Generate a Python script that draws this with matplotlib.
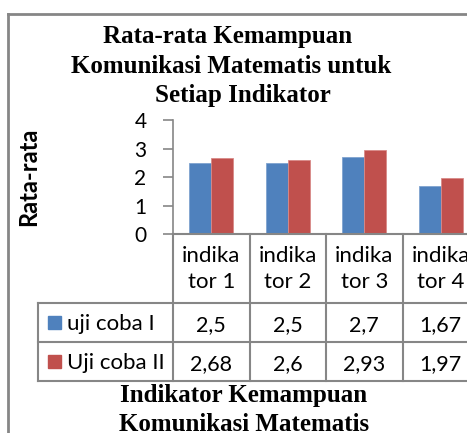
import matplotlib
matplotlib.use("Agg")
import matplotlib.pyplot as plt
from matplotlib.transforms import blended_transform_factory
from matplotlib.lines import Line2D
from matplotlib.patches import Rectangle

categories = ["indika\ntor 1", "indika\ntor 2", "indika\ntor 3", "indika\ntor 4"]
series_names = ["uji coba I", "Uji coba II"]
uji1 = [2.5, 2.5, 2.7, 1.67]
uji2 = [2.68, 2.6, 2.93, 1.97]
uji1_labels = ["2,5", "2,5", "2,7", "1,67"]
uji2_labels = ["2,68", "2,6", "2,93", "1,97"]
yticks = [0, 1, 2, 3, 4]
title_lines = ["Rata-rata Kemampuan", "Komunikasi Matematis untuk", "Setiap Indikator"]
xlabel_lines = ["Indikator Kemampuan", "Komunikasi Matematis"]

W, H = 467, 433
BLUE = "#4F81BD"
RED = "#C0504D"
GRAY = "#868686"
SANS = "Lato"
SERIF = "Liberation Serif"

fig = plt.figure(figsize=(W / 100, H / 100), dpi=100)

def fy(py):
    return 1 - py / H

def fx(px):
    return px / W

# axes in pixel coordinates
ax_left, ax_right, ax_top, ax_bot = 173, 479, 120, 234
ax = fig.add_axes([fx(ax_left), fy(ax_bot), (ax_right - ax_left) / W, (ax_bot - ax_top) / H])

x = list(range(len(categories)))
bw = 0.288
ax.bar([i - bw / 2 for i in x], uji1, width=bw, color=BLUE, edgecolor="#7FA3CF", linewidth=0.6)
ax.bar([i + bw / 2 for i in x], uji2, width=bw, color=RED, edgecolor="#D98A88", linewidth=0.6)

ax.set_xlim(-0.5, len(categories) - 0.5)
ax.set_ylim(0, 4)
ax.set_yticks(yticks)
ax.set_yticklabels([str(t) for t in yticks], fontsize=15, family=SANS)
ax.tick_params(axis="y", direction="out", length=7, width=1.2, color=GRAY, pad=12)
ax.set_xticks([])
for s in ["top", "right"]:
    ax.spines[s].set_visible(False)
ax.spines["left"].set_color(GRAY)
ax.spines["left"].set_linewidth(1.2)
ax.spines["bottom"].set_color(GRAY)
ax.spines["bottom"].set_linewidth(1.5)
ax.patch.set_alpha(0)

# data table
tr = blended_transform_factory(ax.transData, fig.transFigure)
row_y = [303, 342, 381]
for i in range(len(categories) + 1):
    xv = i - 0.5
    fig.add_artist(Line2D([xv, xv], [fy(ax_bot), fy(row_y[-1])], transform=tr,
                          color=GRAY, lw=1.5, clip_on=False))
for ry in row_y:
    fig.add_artist(Line2D([fx(38), fx(ax_right)], [fy(ry), fy(ry)], transform=fig.transFigure,
                          color=GRAY, lw=1.5))
fig.add_artist(Line2D([fx(38), fx(38)], [fy(row_y[0]), fy(row_y[-1])], transform=fig.transFigure,
                      color=GRAY, lw=1.5))

for i, c in enumerate(categories):
    l1, l2 = c.split("\n")
    fig.text(i, fy(262), l1, transform=tr, ha="center", va="baseline", fontsize=16, family=SANS)
    fig.text(i, fy(288), l2, transform=tr, ha="center", va="baseline", fontsize=16, family=SANS)
    fig.text(i, fy(331), uji1_labels[i], transform=tr, ha="center", va="baseline",
             fontsize=15.5, family=SANS)
    fig.text(i, fy(370), uji2_labels[i], transform=tr, ha="center", va="baseline",
             fontsize=15.5, family=SANS)

for k, (name, col) in enumerate(zip(series_names, [BLUE, RED])):
    cy = (row_y[k] + row_y[k + 1]) / 2
    fig.add_artist(Rectangle((fx(48), fy(cy + 6.5)), 13 / W, 13 / H, transform=fig.transFigure,
                             color=col))
    fig.text(fx(67), fy(330 + 39 * k), name, ha="left", va="baseline", fontsize=16, family=SANS)

# titles
for line, cx, by in zip(title_lines, [228, 231, 243], [43, 73, 102]):
    fig.text(fx(cx), fy(by), line, ha="center", va="baseline", fontsize=18, family=SERIF,
             weight="bold")
for line, by in zip(xlabel_lines, [402, 431]):
    fig.text(fx(244), fy(by), line, ha="center", va="baseline", fontsize=18, family=SERIF,
             weight="bold")
fig.text(fx(29), fy(177), "Rata-rata", rotation=90, ha="center", va="center",
         fontsize=17, family=SANS, weight="bold")

# outer chart border
fig.add_artist(Line2D([fx(8), fx(8)], [fy(14), 0], transform=fig.transFigure, color=GRAY, lw=2))
fig.add_artist(Line2D([fx(8), 1], [fy(14), fy(14)], transform=fig.transFigure, color=GRAY, lw=2))

fig.savefig("out.png", dpi=100)
